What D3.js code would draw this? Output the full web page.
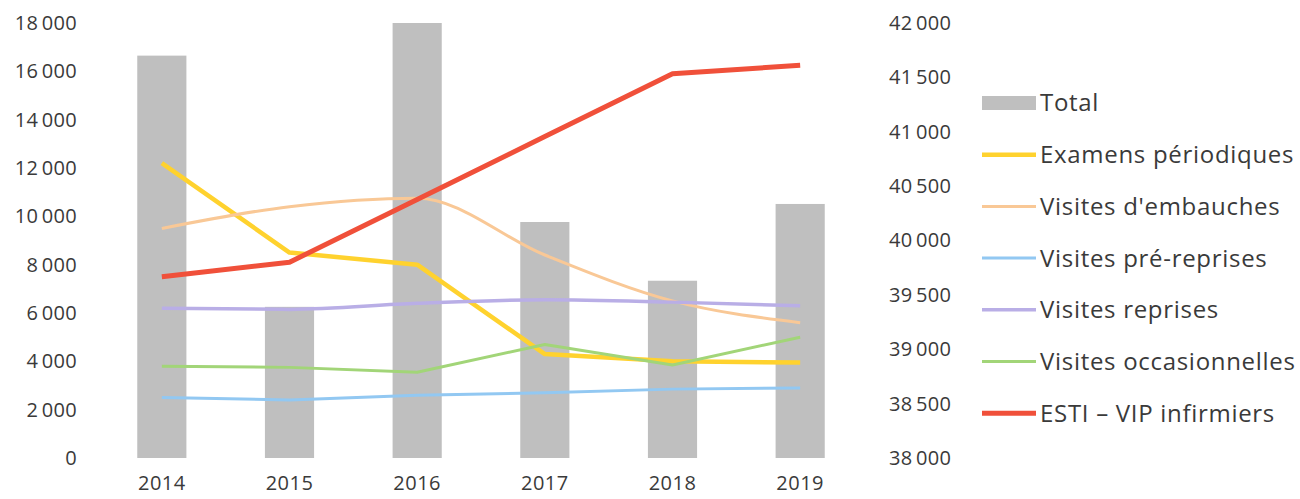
<!DOCTYPE html>
<html>
<head>
<meta charset="utf-8">
<script src="https://cdn.jsdelivr.net/npm/d3@7"></script>
<style>
  body { margin: 0; background: #fff; }
  text { font-family: "Open Sans", sans-serif; fill: #3a3a3a; }
</style>
</head>
<body>
<div id="chart"></div>
<script>
// Data
var years = ["2014", "2015", "2016", "2017", "2018", "2019"];
var total = [41700, 39390, 42000, 40170, 39630, 40336];
var examens = [12200, 8500, 8000, 4300, 4000, 3950];
var embauches = [9500, 10400, 10750, 8400, 6500, 5600];
var preReprises = [2500, 2400, 2600, 2700, 2850, 2900];
var reprises = [6200, 6150, 6400, 6550, 6450, 6300];
var occasionnelles = [3800, 3750, 3550, 4700, 3850, 5000];
var esti = [7500, 8100, 10700, 13300, 15900, 16250];
var leftTicks = [0, 2000, 4000, 6000, 8000, 10000, 12000, 14000, 16000, 18000];
var rightTicks = [38000, 38500, 39000, 39500, 40000, 40500, 41000, 41500, 42000];

var series = [
    { name: "Examens périodiques", values: examens, color: "#FFD22E", width: 4.5, curve: d3.curveLinear },
    { name: "Visites d'embauches", values: embauches, color: "#F9C896", width: 3, curve: d3.curveMonotoneX },
    { name: "Visites pré-reprises", values: preReprises, color: "#92C8F2", width: 3, curve: d3.curveLinear },
    { name: "Visites reprises", values: reprises, color: "#B9AEE6", width: 3.5, curve: d3.curveMonotoneX },
    { name: "Visites occasionnelles", values: occasionnelles, color: "#A2D578", width: 3, curve: d3.curveLinear },
    { name: "ESTI – VIP infirmiers", values: esti, color: "#F0503A", width: 5, curve: d3.curveLinear }
];

// SVG
var svgWidth = 1300;
var svgHeight = 499;

var svg = d3.select("#chart")
    .append("svg")
    .attr("width", svgWidth)
    .attr("height", svgHeight);

var fr = d3.formatLocale({ decimal: ",", thousands: "\u2009", grouping: [3], currency: ["", " €"] });
var fmt = fr.format(",d");

// Scales
var xScale = d3.scaleBand()
    .domain(years)
    .range([98, 864])
    .paddingInner(0)
    .paddingOuter(0);

var yLeft = d3.scaleLinear()
    .domain([0, 18000])
    .range([458, 23]);

var yRight = d3.scaleLinear()
    .domain([38000, 42000])
    .range([458, 23]);

var barWidth = xScale.bandwidth() * 0.385;
var cx = d => xScale(d) + xScale.bandwidth() / 2;

// Bars (Total, right axis)
svg.append("g")
    .selectAll("rect")
    .data(years)
    .enter()
    .append("rect")
    .attr("x", d => cx(d) - barWidth / 2)
    .attr("width", barWidth)
    .attr("y", (d, i) => yRight(total[i]))
    .attr("height", (d, i) => yRight(38000) - yRight(total[i]))
    .attr("fill", "#BFBFBF");

// Lines (left axis)
series.forEach(s => {
    var line = d3.line()
        .x((d, i) => cx(years[i]))
        .y(d => yLeft(d))
        .curve(s.curve);
    svg.append("path")
        .datum(s.values)
        .attr("d", line)
        .attr("fill", "none")
        .attr("stroke", s.color)
        .attr("stroke-width", s.width)
        .attr("stroke-linejoin", "round");
});

// Axes
var leftAxis = d3.axisLeft(yLeft)
    .tickValues(leftTicks)
    .tickFormat(fmt)
    .tickSize(0)
    .tickPadding(0);
svg.append("g")
    .attr("transform", "translate(77, 0)")
    .call(leftAxis)
    .call(g => g.select(".domain").remove())
    .selectAll("text")
    .attr("font-size", 20)
    .attr("letter-spacing", 0.3)
    .attr("fill", "#3a3a3a");

var rightAxis = d3.axisRight(yRight)
    .tickValues(rightTicks)
    .tickFormat(fmt)
    .tickSize(0)
    .tickPadding(0);
svg.append("g")
    .attr("transform", "translate(889, 0)")
    .call(rightAxis)
    .call(g => g.select(".domain").remove())
    .selectAll("text")
    .attr("font-size", 20)
    .attr("letter-spacing", 0.3)
    .attr("fill", "#3a3a3a");

var bottomAxis = d3.axisBottom(xScale)
    .tickSize(0)
    .tickPadding(0);
svg.append("g")
    .attr("transform", "translate(0, 476)")
    .call(bottomAxis)
    .call(g => g.select(".domain").remove())
    .selectAll("text")
    .attr("font-size", 20)
    .attr("letter-spacing", 0.5)
    .attr("fill", "#3a3a3a");

// Legend
var legendItems = [{ name: "Total", color: "#BFBFBF", bar: true }].concat(series);
var legend = svg.append("g")
    .attr("transform", "translate(982, 103)");

legendItems.forEach((d, i) => {
    var g = legend.append("g").attr("transform", `translate(0, ${i * 51.7})`);
    if (d.bar) {
        g.append("rect")
            .attr("x", 0)
            .attr("y", -7)
            .attr("width", 54)
            .attr("height", 14)
            .attr("fill", d.color);
    } else {
        g.append("line")
            .attr("x1", 0)
            .attr("x2", 54)
            .attr("y1", 0)
            .attr("y2", 0)
            .attr("stroke", d.color)
            .attr("stroke-width", d.width);
    }
    g.append("text")
        .attr("x", 58)
        .attr("y", 0)
        .attr("dy", "0.35em")
        .attr("font-size", 24)
        .attr("letter-spacing", 0.7)
        .attr("fill", "#333")
        .text(d.name);
});
</script>
</body>
</html>
